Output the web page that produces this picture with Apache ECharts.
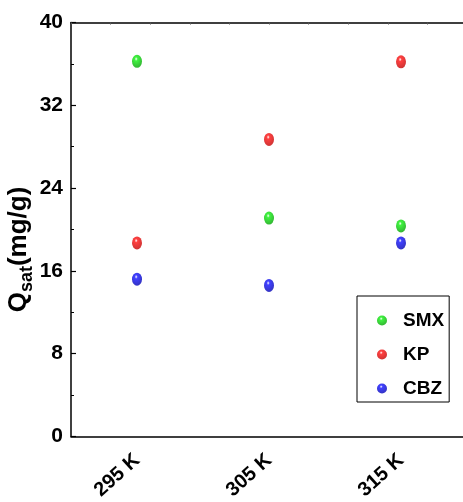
<!DOCTYPE html>
<html><head><meta charset="utf-8">
<script src="https://cdn.jsdelivr.net/npm/echarts@6/dist/echarts.min.js"></script>
<style>html,body{margin:0;padding:0;background:#fff}#c{width:463px;height:502px}</style>
</head><body><div id="c"></div>
<script>
const categories = ['295 K', '305 K', '315 K'];
const smx = [36.25, 21.1, 20.35];
const kp = [18.7, 28.7, 36.2];
const cbz = [15.2, 14.6, 18.7];
const yTicks = { min: 0, max: 40, interval: 8 };

const FONT = "'Liberation Sans',Arial,sans-serif";
function ball(c, dark) {
  return { type: 'radial', x: 0.42, y: 0.32, r: 0.7,
    colorStops: [{offset: 0, color: '#ffffff'}, {offset: 0.22, color: c}, {offset: 1, color: dark}] };
}
const chart = echarts.init(document.getElementById('c'), null, {renderer: 'canvas'});
function mk(name, data, c, d) {
  return { name, type: 'scatter', data, xAxisIndex: 0, yAxisIndex: 0,
    symbol: 'circle', symbolSize: [10, 13], itemStyle: { color: ball(c, d) }, z: 5 };
}
chart.setOption({
  animation: false,
  grid: { left: 71, top: 22.5, width: 396, height: 414, containLabel: false, outerBoundsMode: 'none' },
  legend: {
    orient: 'vertical', left: 357, top: 296, icon: 'circle', itemWidth: 10, itemHeight: 13,
    itemGap: 15, padding: [15, 5, 4, 20],
    borderColor: '#000', borderWidth: 1, backgroundColor: '#fff',
    textStyle: { fontFamily: FONT, fontWeight: 'bold', fontSize: 19, color: '#000', padding: [0, 0, 0, 11] },
    data: ['SMX', 'KP', 'CBZ']
  },
  xAxis: [
    { type: 'category', data: categories, position: 'bottom',
      axisLine: { lineStyle: { color: '#000', width: 1.5 } },
      axisTick: { inside: true, alignWithLabel: true, length: 7, lineStyle: { color: '#000', width: 1.2 } },
      axisLabel: { rotate: 42, fontFamily: FONT, fontWeight: 'bold', fontSize: 20, color: '#000', margin: 21 },
      splitLine: { show: false } },
    { type: 'category', data: categories, position: 'bottom',
      axisLine: { show: false },
      axisTick: { inside: true, length: 2, lineStyle: { color: '#000', width: 1 } },
      axisLabel: { show: false }, splitLine: { show: false } },
    { type: 'value', position: 'top', min: 0, max: 10, interval: 1,
      axisLine: { show: true, lineStyle: { color: '#000', width: 1.5 } },
      axisTick: { show: true, inside: true, length: 2, lineStyle: { color: '#555', width: 1 } },
      axisLabel: { show: false }, splitLine: { show: false } }
  ],
  yAxis: {
    type: 'value', min: yTicks.min, max: yTicks.max, interval: yTicks.interval,
    name: '{a|Q}{b|sat}{a|(mg/g)}', nameLocation: 'middle', nameGap: 39, nameMoveOverlap: false,
    nameTextStyle: { padding: [0, 40, 0, 0], rich: {
      a: { fontFamily: FONT, fontWeight: 'bold', fontSize: 26, color: '#000', verticalAlign: 'bottom', lineHeight: 30 },
      b: { fontFamily: FONT, fontWeight: 'bold', fontSize: 18, color: '#000', verticalAlign: 'bottom', lineHeight: 30, padding: [0, 0, -4, 0] }
    } },
    axisLine: { show: true, lineStyle: { color: '#000', width: 1.5 } },
    axisTick: { show: true, inside: true, length: 5, lineStyle: { color: '#000', width: 1.2 } },
    minorTick: { show: true, splitNumber: 2, length: 3, lineStyle: { color: '#000', width: 1 } },
    axisLabel: { fontFamily: FONT, fontWeight: 'bold', fontSize: 21, color: '#000', margin: 8 },
    splitLine: { show: false }
  },
  series: [
    mk('SMX', smx, '#10f010', '#00a000'),
    mk('KP', kp, '#ff1010', '#c00000'),
    mk('CBZ', cbz, '#1010ff', '#0000b0')
  ]
});
</script></body></html>
